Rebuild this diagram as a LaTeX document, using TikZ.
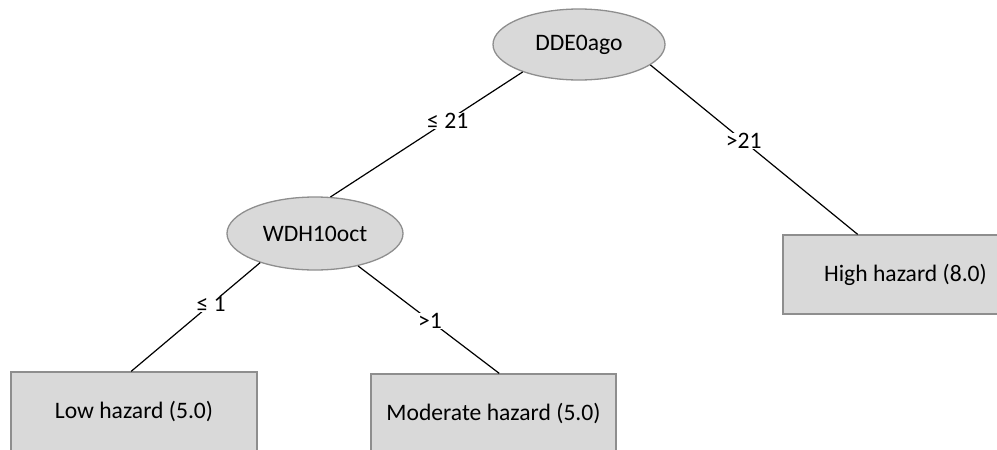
\documentclass[tikz,border=0pt]{standalone}
\usepackage{fontspec}
\setmainfont{Carlito}
\usetikzlibrary{shapes.geometric}
\definecolor{boxfill}{HTML}{D9D9D9}
\definecolor{boxline}{HTML}{8E8E8E}
\tikzset{
  txt/.style={font=\fontsize{23.6}{28}\selectfont},
  attr/.style={txt, ellipse, draw=boxline, line width=1.3pt, fill=boxfill, inner sep=0pt},
  leaf/.style={txt, rectangle, draw=boxline, line width=1.3pt, fill=boxfill, inner sep=0pt, minimum height=80pt},
  edge/.style={draw=black, line width=1.2pt},
  lbl/.style={txt, fill=white, inner sep=0.5pt}
}
\begin{document}
\begin{tikzpicture}[x=1pt,y=-1pt]
\useasboundingbox (0,0) rectangle (997,450);
\node[attr, minimum width=172pt, minimum height=71pt] (d) at (579,44.5) {DDE0ago};
\node[attr, minimum width=176pt, minimum height=73pt] (w) at (315,233.5) {WDH10oct};
\node[leaf, minimum width=246pt] (l) at (134,412) {Low hazard (5.0)};
\node[leaf, minimum width=245pt] (m) at (493.5,414) {Moderate hazard (5.0)};
\node[leaf, minimum width=245pt, minimum height=79pt] (h) at (905.5,274.5) {High hazard (8.0)};
\draw[edge] (d.206.6) -- node[lbl, pos=0.39] {≤ 21} (w.67);
\draw[edge] (d.344) -- node[lbl, pos=0.45] {>21} (h.140.3);
\draw[edge] (w.208) -- node[lbl, pos=0.38] {≤ 1} (l.94.3);
\draw[edge] (w.323.6) -- node[lbl, pos=0.51] {>1} (m.82);
\end{tikzpicture}
\end{document}
